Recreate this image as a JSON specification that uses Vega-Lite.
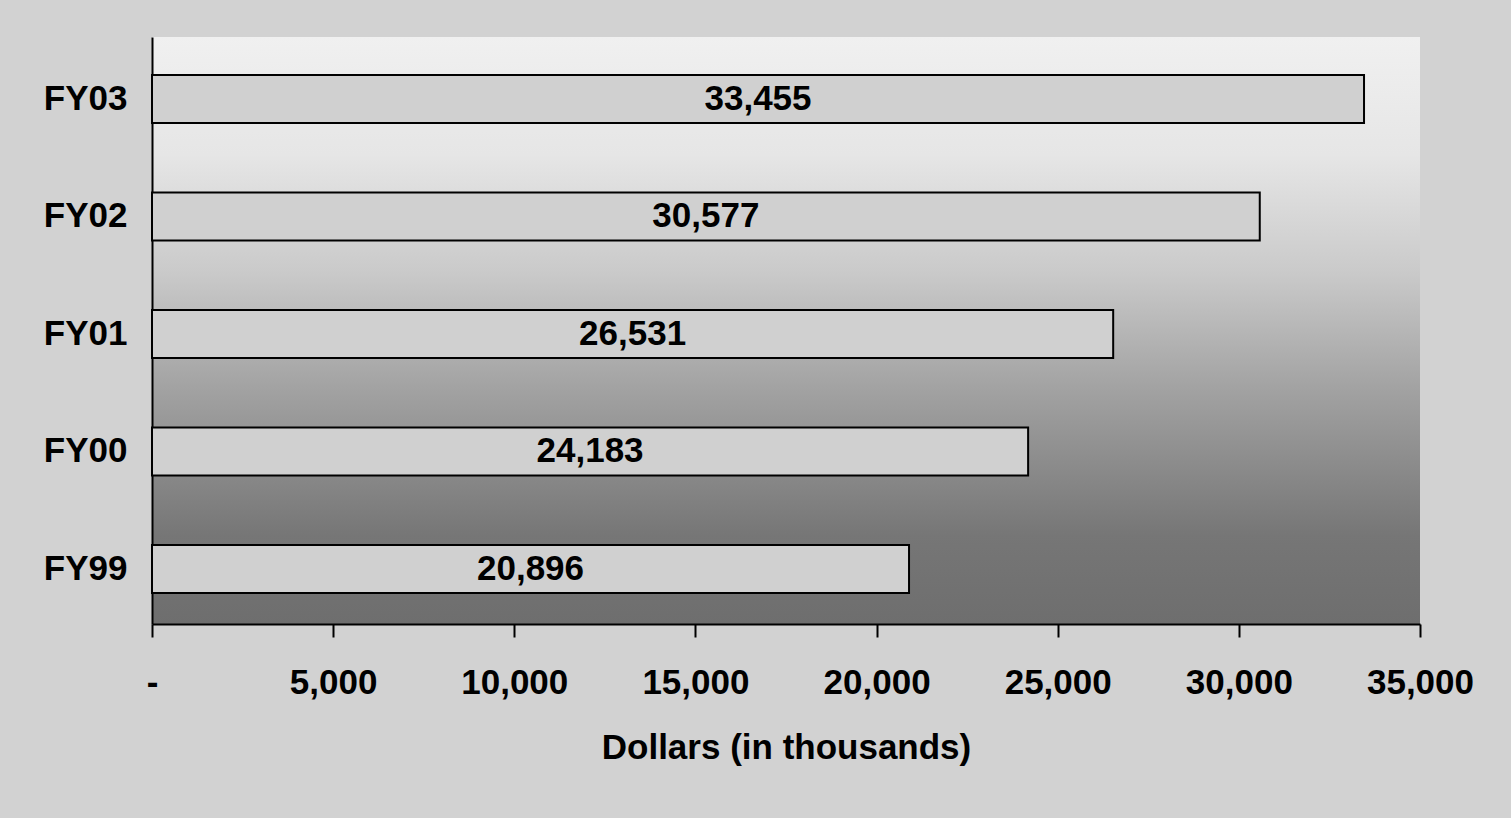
{
  "$schema": "https://vega.github.io/schema/vega-lite/v6.json",
  "width": 1268,
  "height": 587,
  "autosize": {"type": "none"},
  "padding": {"left": 152, "top": 37, "right": 91, "bottom": 194},
  "background": "#d2d2d2",
  "config": {
    "font": "Liberation Sans",
    "view": {
      "stroke": null,
      "fill": {
        "gradient": "linear",
        "x1": 0, "y1": 0, "x2": 0, "y2": 1,
        "stops": [
          {"offset": 0, "color": "#f0f0f0"},
          {"offset": 0.2, "color": "#e6e6e6"},
          {"offset": 0.4, "color": "#cacaca"},
          {"offset": 0.6, "color": "#a2a2a2"},
          {"offset": 0.85, "color": "#767676"},
          {"offset": 1, "color": "#6e6e6e"}
        ]
      }
    }
  },
  "data": {
    "values": [
      {"year": "FY03", "amount": 33455},
      {"year": "FY02", "amount": 30577},
      {"year": "FY01", "amount": 26531},
      {"year": "FY00", "amount": 24183},
      {"year": "FY99", "amount": 20896}
    ]
  },
  "encoding": {
    "y": {
      "field": "year",
      "type": "nominal",
      "sort": ["FY03", "FY02", "FY01", "FY00", "FY99"],
      "scale": {"paddingInner": 0.5915, "paddingOuter": 0.2936, "align": 0.55},
      "axis": {
        "title": null,
        "domainColor": "#000000",
        "domainWidth": 2,
        "ticks": false,
        "labelFont": "Liberation Sans",
        "labelFontSize": 35,
        "labelFontWeight": "bold",
        "labelColor": "#000000",
        "labelPadding": 25
      }
    }
  },
  "layer": [
    {
      "mark": {"type": "bar", "fill": "#d0d0d0", "stroke": "#000000", "strokeWidth": 2},
      "encoding": {
        "x": {
          "field": "amount",
          "type": "quantitative",
          "scale": {"domain": [0, 35000], "nice": false},
          "axis": {
            "values": [0, 5000, 10000, 15000, 20000, 25000, 30000, 35000],
            "labelExpr": "datum.value == 0 ? '-' : format(datum.value, ',')",
            "grid": false,
            "domainColor": "#000000",
            "domainWidth": 2,
            "tickColor": "#000000",
            "tickWidth": 2,
            "tickSize": 13,
            "labelFont": "Liberation Sans",
            "labelFontSize": 35,
            "labelFontWeight": "bold",
            "labelColor": "#000000",
            "labelPadding": 28,
            "labelFlush": false,
            "title": "Dollars (in thousands)",
            "titleFont": "Liberation Sans",
            "titleFontSize": 35,
            "titleFontWeight": "bold",
            "titleColor": "#000000",
            "titlePadding": 30
          }
        }
      }
    },
    {
      "mark": {"type": "text", "font": "Liberation Sans", "fontSize": 35, "fontWeight": "bold", "color": "#000000"},
      "encoding": {
        "x": {"field": "amount", "type": "quantitative", "stack": "zero", "bandPosition": 0.5},
        "text": {"field": "amount", "type": "quantitative", "format": ","}
      }
    }
  ]
}
